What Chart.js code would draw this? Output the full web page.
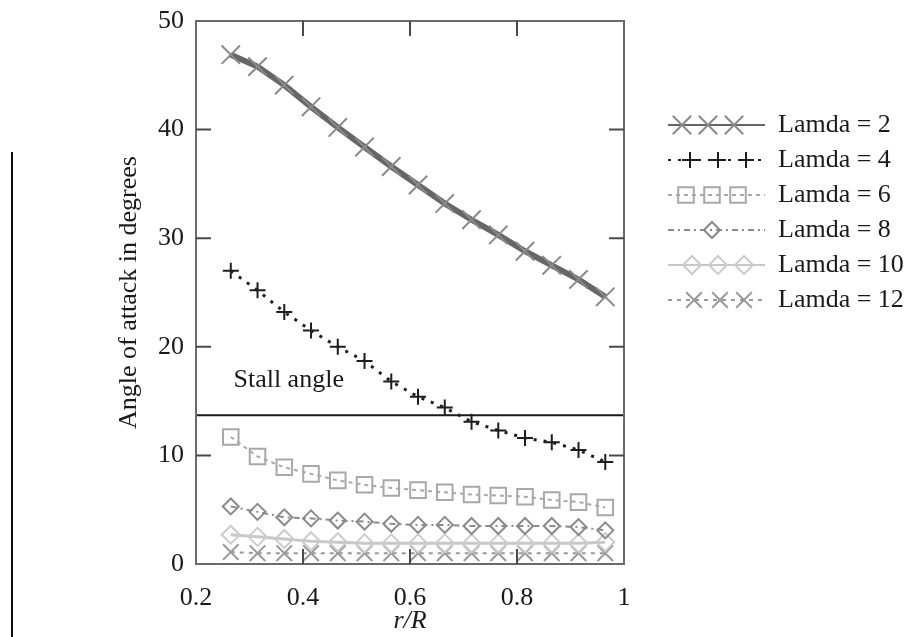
<!DOCTYPE html>
<html>
<head>
<meta charset="utf-8">
<title>Angle of attack vs r/R</title>
<script src="https://cdn.jsdelivr.net/npm/chart.js@4.4.1/dist/chart.umd.min.js"></script>
<style>
  html, body { margin: 0; padding: 0; background: #fff; }
  #wrap { position: relative; width: 908px; height: 637px; }
  /* thin page edge line at the far left of the scan */
  #edge { position: absolute; left: 11px; top: 152px; width: 2px; height: 485px; background: #111; }
</style>
</head>
<body>
<div id="wrap">
  <canvas id="aoaChart" width="908" height="637"></canvas>
  <div id="edge"></div>
</div>
<script>
// Data
const rOverR = [0.265, 0.315, 0.365, 0.415, 0.465, 0.515, 0.565, 0.615, 0.665, 0.715, 0.765, 0.815, 0.865, 0.915, 0.965];
const lamda2 = [46.9, 45.8, 44.1, 42.1, 40.2, 38.4, 36.6, 34.9, 33.2, 31.7, 30.3, 28.8, 27.5, 26.2, 24.6];
const lamda4 = [27.0, 25.2, 23.2, 21.5, 20.0, 18.7, 16.8, 15.4, 14.4, 13.1, 12.3, 11.6, 11.2, 10.5, 9.4];
const lamda6 = [11.7, 9.9, 8.9, 8.3, 7.7, 7.3, 7.0, 6.8, 6.6, 6.4, 6.3, 6.2, 5.9, 5.7, 5.2];
const lamda8 = [5.3, 4.8, 4.3, 4.2, 4.0, 3.9, 3.7, 3.6, 3.6, 3.5, 3.5, 3.5, 3.5, 3.4, 3.1];
const lamda10 = [2.7, 2.5, 2.3, 2.1, 2.0, 1.9, 1.9, 1.9, 1.9, 1.9, 1.9, 1.9, 1.9, 1.9, 2.0];
const lamda12 = [1.1, 1.0, 1.0, 1.0, 1.0, 1.0, 1.0, 1.0, 1.0, 1.0, 1.0, 1.0, 1.0, 1.0, 1.0];

const seriesLabels = ['Lamda = 2', 'Lamda = 4', 'Lamda = 6', 'Lamda = 8', 'Lamda = 10', 'Lamda = 12'];
const seriesValues = [lamda2, lamda4, lamda6, lamda8, lamda10, lamda12];

const stallAngle = 13.7;
const stallRange = [0.2, 1];
const xTickLabels = ['0.2', '0.4', '0.6', '0.8', '1'];
const yTicks = [0, 10, 20, 30, 40, 50];

const FONT = "'Liberation Serif', 'Times New Roman', serif";
const FS = 26;

// Look of each series (line + marker), plus where the legend sample marks go
const seriesStyles = [
    { color: '#666666', mark: '#8a8a8a', width: 6, dash: [], point: 'crossRot', radius: 13, pw: 2, marks: [682, 708, 734] },
    { color: '#1e1e1e', mark: '#1e1e1e', width: 3, dash: [3, 7], point: 'cross', radius: 8, pw: 2, marks: [690, 718, 746] },
    { color: '#a8a8a8', mark: '#a8a8a8', width: 2, dash: [4, 4], point: 'rect', radius: 11, pw: 2, marks: [686, 712, 738] },
    { color: '#8a8a8a', mark: '#8a8a8a', width: 2, dash: [6, 4, 2, 4], point: 'rectRot', radius: 8, pw: 2, marks: [712] },
    { color: '#c8c8c8', mark: '#cccccc', width: 3, dash: [], point: 'rectRot', radius: 9, pw: 2, marks: [692, 718, 744] },
    { color: '#999999', mark: '#999999', width: 2, dash: [4, 5], point: 'crossRot', radius: 11, pw: 2, marks: [694, 720, 744] }
];

const datasets = seriesValues.map((vals, i) => {
    const s = seriesStyles[i];
    return {
        label: seriesLabels[i],
        data: vals.map((v, j) => ({ x: rOverR[j], y: v })),
        borderColor: s.color,
        borderWidth: s.width,
        borderDash: s.dash,
        pointStyle: s.point,
        pointRadius: s.radius,
        pointBorderWidth: s.pw,
        pointBorderColor: s.mark,
        pointBackgroundColor: 'rgba(0,0,0,0)',
        tension: 0,
        clip: false
    };
});

// Horizontal stall angle line
datasets.push({
    label: 'Stall angle',
    data: stallRange.map(x => ({ x: x, y: stallAngle })),
    borderColor: '#1a1a1a',
    borderWidth: 2,
    pointRadius: 0,
    tension: 0,
    clip: false
});

// Frame, inward tick marks, stall label and the custom legend
const decorations = {
    id: 'decorations',
    afterDraw(chart) {
        const ctx = chart.ctx;
        const a = chart.chartArea;
        const xs = chart.scales.x;
        const ys = chart.scales.y;
        ctx.save();

        // plot frame
        ctx.setLineDash([]);
        ctx.strokeStyle = '#6a6a6a';
        ctx.lineWidth = 2;
        ctx.strokeRect(a.left, a.top, a.right - a.left, a.bottom - a.top);

        // inner tick marks
        const tl = 15;
        ctx.strokeStyle = '#4a4a4a';
        ctx.beginPath();
        yTicks.slice(1, -1).forEach(v => {
            const py = ys.getPixelForValue(v);
            ctx.moveTo(a.left, py); ctx.lineTo(a.left + tl, py);
            ctx.moveTo(a.right, py); ctx.lineTo(a.right - tl, py);
        });
        [0.4, 0.6, 0.8].forEach(v => {
            const px = xs.getPixelForValue(v);
            ctx.moveTo(px, a.top); ctx.lineTo(px, a.top + tl);
            ctx.moveTo(px, a.bottom); ctx.lineTo(px, a.bottom - tl);
        });
        ctx.stroke();

        // stall angle text
        ctx.fillStyle = '#1a1a1a';
        ctx.font = FS + 'px ' + FONT;
        ctx.textAlign = 'left';
        ctx.textBaseline = 'middle';
        ctx.fillText('Stall angle', xs.getPixelForValue(0.27), ys.getPixelForValue(16.9));

        // legend
        const lx0 = 668, lx1 = 765, ly0 = 125, lstep = 35;
        seriesStyles.forEach((s, i) => {
            const y = ly0 + i * lstep;
            ctx.strokeStyle = s.color;
            ctx.fillStyle = 'rgba(0,0,0,0)';
            ctx.lineWidth = Math.min(s.width, 2);
            ctx.setLineDash(s.dash);
            ctx.beginPath();
            ctx.moveTo(lx0, y);
            ctx.lineTo(lx1, y);
            ctx.stroke();
            ctx.setLineDash([]);
            ctx.strokeStyle = s.mark;
            ctx.lineWidth = s.pw;
            s.marks.forEach(mx => {
                Chart.helpers.drawPoint(ctx, {
                    pointStyle: s.point,
                    radius: s.radius,
                    rotation: 0,
                    borderWidth: s.pw
                }, mx, y);
            });
            ctx.fillStyle = '#1a1a1a';
            ctx.font = FS + 'px ' + FONT;
            ctx.textAlign = 'left';
            ctx.textBaseline = 'middle';
            ctx.fillText(seriesLabels[i], 778, y);
        });

        ctx.restore();
    }
};

new Chart(document.getElementById('aoaChart'), {
    type: 'line',
    data: { datasets: datasets },
    options: {
        responsive: false,
        animation: false,
        devicePixelRatio: 1,
        layout: {
            padding: { left: 114, right: 284, top: 21, bottom: 0 }
        },
        plugins: {
            legend: { display: false },
            tooltip: { enabled: false }
        },
        scales: {
            x: {
                type: 'linear',
                min: 0.2,
                max: 1,
                grid: { display: false, drawTicks: false },
                border: { display: false },
                ticks: {
                    stepSize: 0.2,
                    autoSkip: false,
                    maxRotation: 0,
                    padding: 19,
                    color: '#1a1a1a',
                    font: { family: FONT, size: FS },
                    callback: (v, i) => xTickLabels[i]
                },
                title: {
                    display: true,
                    text: 'r/R',
                    color: '#1a1a1a',
                    font: { family: FONT, size: FS, style: 'italic' },
                    padding: { top: 0, bottom: 0 }
                },
                afterFit(scale) {
                    scale.height = 73;
                    scale.paddingLeft = 0;
                    scale.paddingRight = 0;
                }
            },
            y: {
                min: 0,
                max: 50,
                grid: { display: false, drawTicks: false },
                border: { display: false },
                ticks: {
                    stepSize: 10,
                    padding: 12,
                    color: '#1a1a1a',
                    font: { family: FONT, size: FS }
                },
                title: {
                    display: true,
                    text: 'Angle of attack in degrees',
                    color: '#1a1a1a',
                    font: { family: FONT, size: FS },
                    padding: 0
                },
                afterFit(scale) {
                    scale.width = 82;
                    scale.paddingTop = 0;
                    scale.paddingBottom = 0;
                }
            }
        }
    },
    plugins: [decorations]
});
</script>
</body>
</html>
